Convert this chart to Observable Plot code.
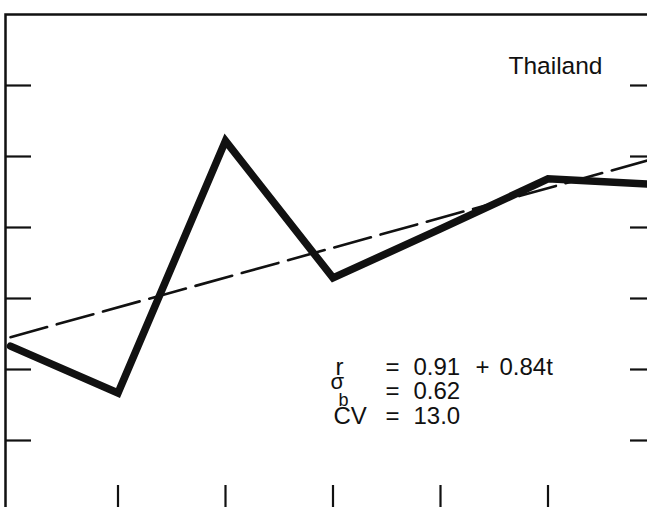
<!DOCTYPE html>
<html>
<head>
<meta charset="utf-8">
<script src="https://cdn.jsdelivr.net/npm/d3@7"></script>
<script src="https://cdn.jsdelivr.net/npm/@observablehq/plot@0.6"></script>
<style>
  html, body { margin: 0; padding: 0; background: #fff; overflow: hidden; }
  #chart svg { display: block; overflow: hidden; }
  /* heavier tick strokes, like a printed figure */
  #chart [aria-label^="x-axis"] line, #chart [aria-label^="x-axis"] path,
  #chart [aria-label^="y-axis"] line, #chart [aria-label^="y-axis"] path { stroke-width: 2.2px; }
</style>
</head>
<body>
<div id="chart"></div>
<script>
// Time index t (years from the start of the period) and the observed rate r
const years  = [0, 1, 2, 3, 4, 5, 6];
const rates  = [0.66, -0.66, 6.44, 2.58, 3.96, 5.37, 5.21];

// Fitted trend r = a + b·t and its statistics
const trendIntercept = 0.91;
const trendSlope = 0.84;
const sigmaB = "0.62";
const cv = "13.0";
const country = "Thailand";

// Tick positions (unlabelled)
const xTicks = [1, 2, 3, 4, 5];
const yTicks = [-2, 0, 2, 4, 6, 8];

const series = years.map((t, i) => ({t, r: rates[i]}));
const trend = [years[0], years[years.length - 1]].map(t => ({t, r: trendIntercept + trendSlope * t}));

const W = 647, H = 507;
const M = {top: 14, right: -8, bottom: -4, left: 5};
const font = "'Liberation Sans', Arial, Helvetica, sans-serif";

// text placed in pixel space relative to the frame's top-left corner
function label(str, px, py, size, extra = {}) {
  return Plot.text([str], {
    text: d => d,
    frameAnchor: "top-left",
    dx: px - M.left,
    dy: py - M.top,
    textAnchor: "start",
    lineAnchor: "bottom",
    fontSize: size,
    fill: "#111",
    ...extra
  });
}

const chart = Plot.plot({
  width: W,
  height: H,
  marginTop: M.top,
  marginRight: M.right,
  marginBottom: M.bottom,
  marginLeft: M.left,
  style: {fontFamily: font, background: "#fff", color: "#111"},
  x: {domain: [0, 6], range: [10, 655], ticks: xTicks, tickSize: -26, tickFormat: () => "", label: null, axis: "bottom"},
  y: {domain: [-4, 10], range: [511, 14], ticks: yTicks, tickSize: -26, tickFormat: () => "", label: null, axis: "both"},
  marks: [
    Plot.frame({stroke: "#111", strokeWidth: 2.5}),
    Plot.line(trend, {x: "t", y: "r", stroke: "#111", strokeWidth: 2.6, strokeDasharray: "38,10"}),
    Plot.line(series, {x: "t", y: "r", stroke: "#111", strokeWidth: 7.5, strokeLinejoin: "miter", strokeMiterlimit: 10}),
    label(country, 508, 73, 24.5),
    label("r", 335, 374, 24),
    label("=", 385, 374, 24),
    label(trendIntercept.toFixed(2), 413, 374, 24),
    label("+", 475, 374, 24),
    label(`${trendSlope.toFixed(2)}t`, 499, 374, 24),
    label("σ", 330, 388, 22),
    label("b", 338, 405, 18),
    label("=", 385, 398, 24),
    label(sigmaB, 413, 398, 24),
    label("CV", 333, 423, 24),
    label("=", 385, 423, 24),
    label(cv, 413, 423, 24)
  ]
});

document.getElementById("chart").appendChild(chart);
</script>
</body>
</html>
